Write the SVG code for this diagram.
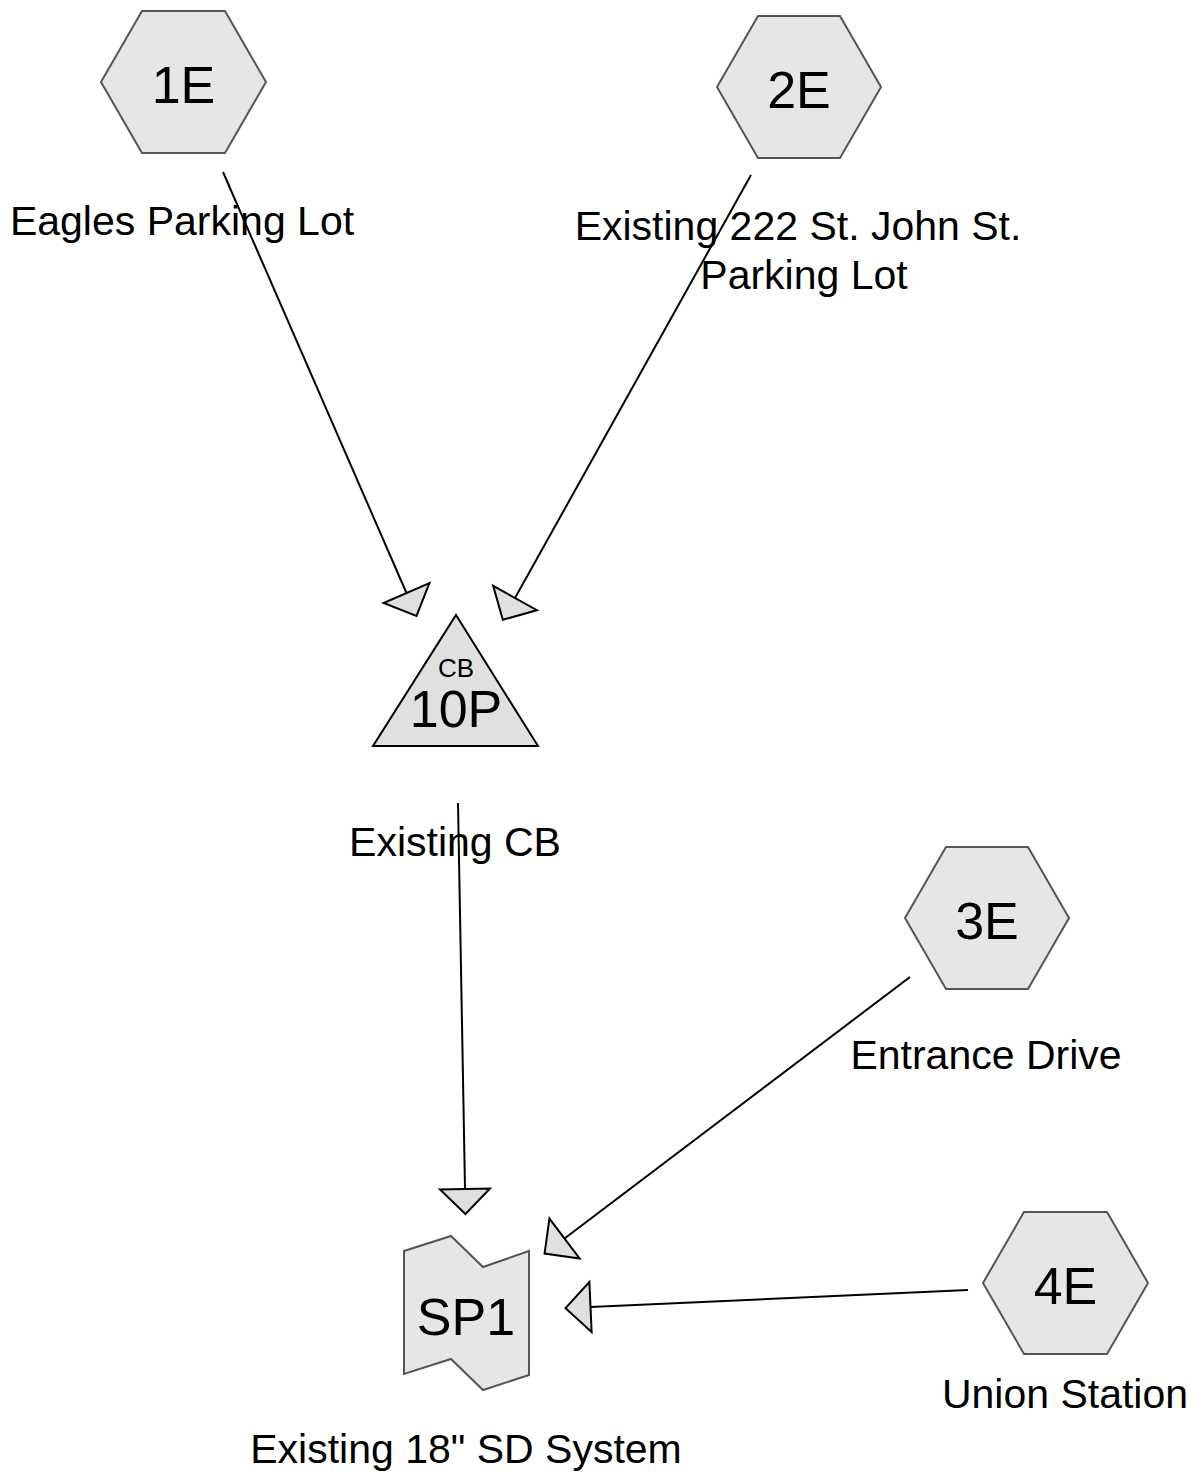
<svg xmlns="http://www.w3.org/2000/svg" width="1193" height="1475" viewBox="0 0 1193 1475">
<style>
.hex{fill:#e6e6e6;stroke:#555;stroke-width:2}
.tri{fill:#e0e0e0;stroke:#000;stroke-width:2}
.sp{fill:#e6e6e6;stroke:#555;stroke-width:2}
.nt{font-family:"Liberation Sans",Arial,sans-serif;font-size:52px;text-anchor:middle;fill:#000}
.lb{font-family:"Liberation Sans",Arial,sans-serif;font-size:41px;text-anchor:middle;fill:#000}
.cn{stroke:#000;stroke-width:2;fill:none}
</style>
<defs>
<marker id="ah" markerUnits="userSpaceOnUse" markerWidth="60" markerHeight="60" refX="0" refY="0" viewBox="-5 -30 40 60" orient="auto" overflow="visible">
<path d="M0,-25 L25,0 L0,25 Z" fill="#e0e0e0" stroke="#000" stroke-width="2" stroke-linejoin="miter"/>
</marker>
</defs>
<g id="connectors">
<path class="cn" d="M223,172 L406.5,593" marker-end="url(#ah)"/>
<path class="cn" d="M751,175 L515,598" marker-end="url(#ah)"/>
<path class="cn" d="M458,803 L465,1189" marker-end="url(#ah)"/>
<path class="cn" d="M910,977 L564.5,1238.5" marker-end="url(#ah)"/>
<path class="cn" d="M968,1290 L590.5,1307" marker-end="url(#ah)"/>
</g>
<g id="node-1E">
<polygon class="hex" points="101,82 142,11 225,11 266,82 225,153 142,153"/>
<text class="nt" x="183.5" y="103">1E</text>
<text class="lb" x="182" y="235">Eagles Parking Lot</text>
</g>
<g id="node-2E">
<polygon class="hex" points="717,87 758,16 840,16 881,87 840,158 758,158"/>
<text class="nt" x="799" y="108">2E</text>
<text class="lb" x="798" y="240">Existing 222 St. John St.</text>
<text class="lb" x="804" y="289">Parking Lot</text>
</g>
<g id="node-10P">
<polygon class="tri" points="456,615 538,746 373,746"/>
<text x="456" y="677" style="font-family:'Liberation Sans',Arial,sans-serif;font-size:26px;text-anchor:middle">CB</text>
<text class="nt" x="456" y="727">10P</text>
<text class="lb" x="455" y="856">Existing CB</text>
</g>
<g id="node-3E">
<polygon class="hex" points="905,918 946,847 1028,847 1069,918 1028,989 946,989"/>
<text class="nt" x="987" y="939">3E</text>
<text class="lb" x="986" y="1069">Entrance Drive</text>
</g>
<g id="node-4E">
<polygon class="hex" points="983,1283 1024,1212 1107,1212 1148,1283 1107,1354 1024,1354"/>
<text class="nt" x="1065.5" y="1304">4E</text>
<text class="lb" x="1065" y="1408">Union Station</text>
</g>
<g id="node-SP1">
<polygon class="sp" points="404,1251 451,1236 483,1267 529,1251 529,1375 483,1390 451,1359 404,1374"/>
<text class="nt" x="466" y="1335">SP1</text>
<text class="lb" x="466" y="1463">Existing 18" SD System</text>
</g>
</svg>
